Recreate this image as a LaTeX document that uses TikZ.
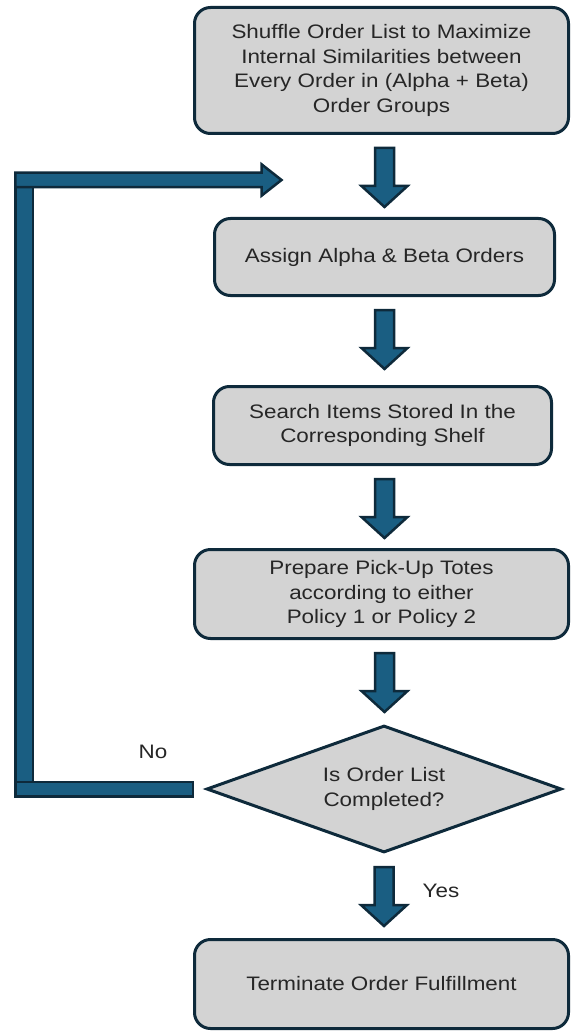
\documentclass[tikz,border=0pt]{standalone}
\usepackage{fontspec}
\usetikzlibrary{shapes.geometric,calc}
\newfontfamily\diafont[FakeStretch=1.15]{Liberation Sans}
\definecolor{boxgray}{HTML}{D3D3D3}
\definecolor{outl}{HTML}{0E2A3B}
\definecolor{flowblue}{HTML}{1A5E82}
\definecolor{txt}{HTML}{262626}
\begin{document}
\begin{tikzpicture}[x=1pt,y=-1pt,
  every node/.style={font=\diafont\fontsize{19.5}{24.5}\selectfont, text=txt},
  procbox/.style={draw=outl, line width=3pt, fill=boxgray, rounded corners=16pt,
    align=center, inner sep=0pt},
  decbox/.style={draw=outl, line width=3pt, fill=boxgray, diamond, aspect=2.75,
    align=center, inner sep=0pt},
  blockarrow/.style={draw=outl, line width=2.5pt, fill=flowblue, line join=miter},
  pics/downarrow/.style={code={
    \path[blockarrow] (-9.5,0) -- (9.5,0) -- (9.5,38) -- (23,38) -- (0,59)
      -- (-23,38) -- (-9.5,38) -- cycle;}}
]
\useasboundingbox (0,0) rectangle (571,1032);

% process steps
\node[procbox, minimum width=374pt, minimum height=126pt] (b1) at (381.5,70.5)
  {Shuffle Order List to Maximize\\Internal Similarities between\\Every Order in (Alpha + Beta)\\Order Groups};
\node[procbox, minimum width=340pt, minimum height=77pt] (b2) at (384.5,257)
  {Assign Alpha \& Beta Orders};
\node[procbox, minimum width=338pt, minimum height=78pt] (b3) at (382.5,425.5)
  {Search Items Stored In the\\Corresponding Shelf};
\node[procbox, minimum width=374pt, minimum height=89pt] (b4) at (381.5,594)
  {Prepare Pick-Up Totes\\according to either\\Policy 1 or Policy 2};
\node[decbox, minimum width=355pt, minimum height=127pt] (dec) at (384,789)
  {Is Order List\\Completed?};
\node[procbox, minimum width=374pt, minimum height=89pt] (b5) at (381.5,984)
  {Terminate Order Fulfillment};

% downward flow arrows
\pic (a1) at ($(b1.south)+(3,13)$) {downarrow};
\pic (a2) at ($(b2.south)+(0,13)$) {downarrow};
\pic (a3) at ($(b3.south)+(2,13)$) {downarrow};
\pic (a4) at ($(b4.south)+(3,13)$) {downarrow};
\pic (a5) at ($(dec.south)+(0,13)$) {downarrow};

% loop back when the list is not completed
\coordinate (nofrom) at ($(dec.west)+(-12,0)$);
\coordinate (loopto) at ($(b1.south)+(-100,45)$);
\coordinate (lx) at (24,0);
\coordinate (c1) at (nofrom -| lx);
\coordinate (c2) at (loopto -| lx);
\path[blockarrow] ($(c2)+(-8.75,7.25)$) rectangle ($(c1)+(8.75,-7.25)$);
\path[blockarrow] ($(nofrom)+(0,-7.25)$) rectangle ($(c1)+(-8.75,7.25)$);
\path[blockarrow] ($(c2)+(-8.75,-7.25)$) -- ($(loopto)+(-20,-7.25)$)
  -- ($(loopto)+(-20,-15.75)$) -- (loopto) -- ($(loopto)+(-20,15.75)$)
  -- ($(loopto)+(-20,7.25)$) -- ($(c2)+(-8.75,7.25)$) -- cycle;

% branch labels
\node (no) at ($(nofrom)+(-40,-37)$) {No};
\node (yes) at ($(dec.south)+(57,36.5)$) {Yes};
\end{tikzpicture}
\end{document}
